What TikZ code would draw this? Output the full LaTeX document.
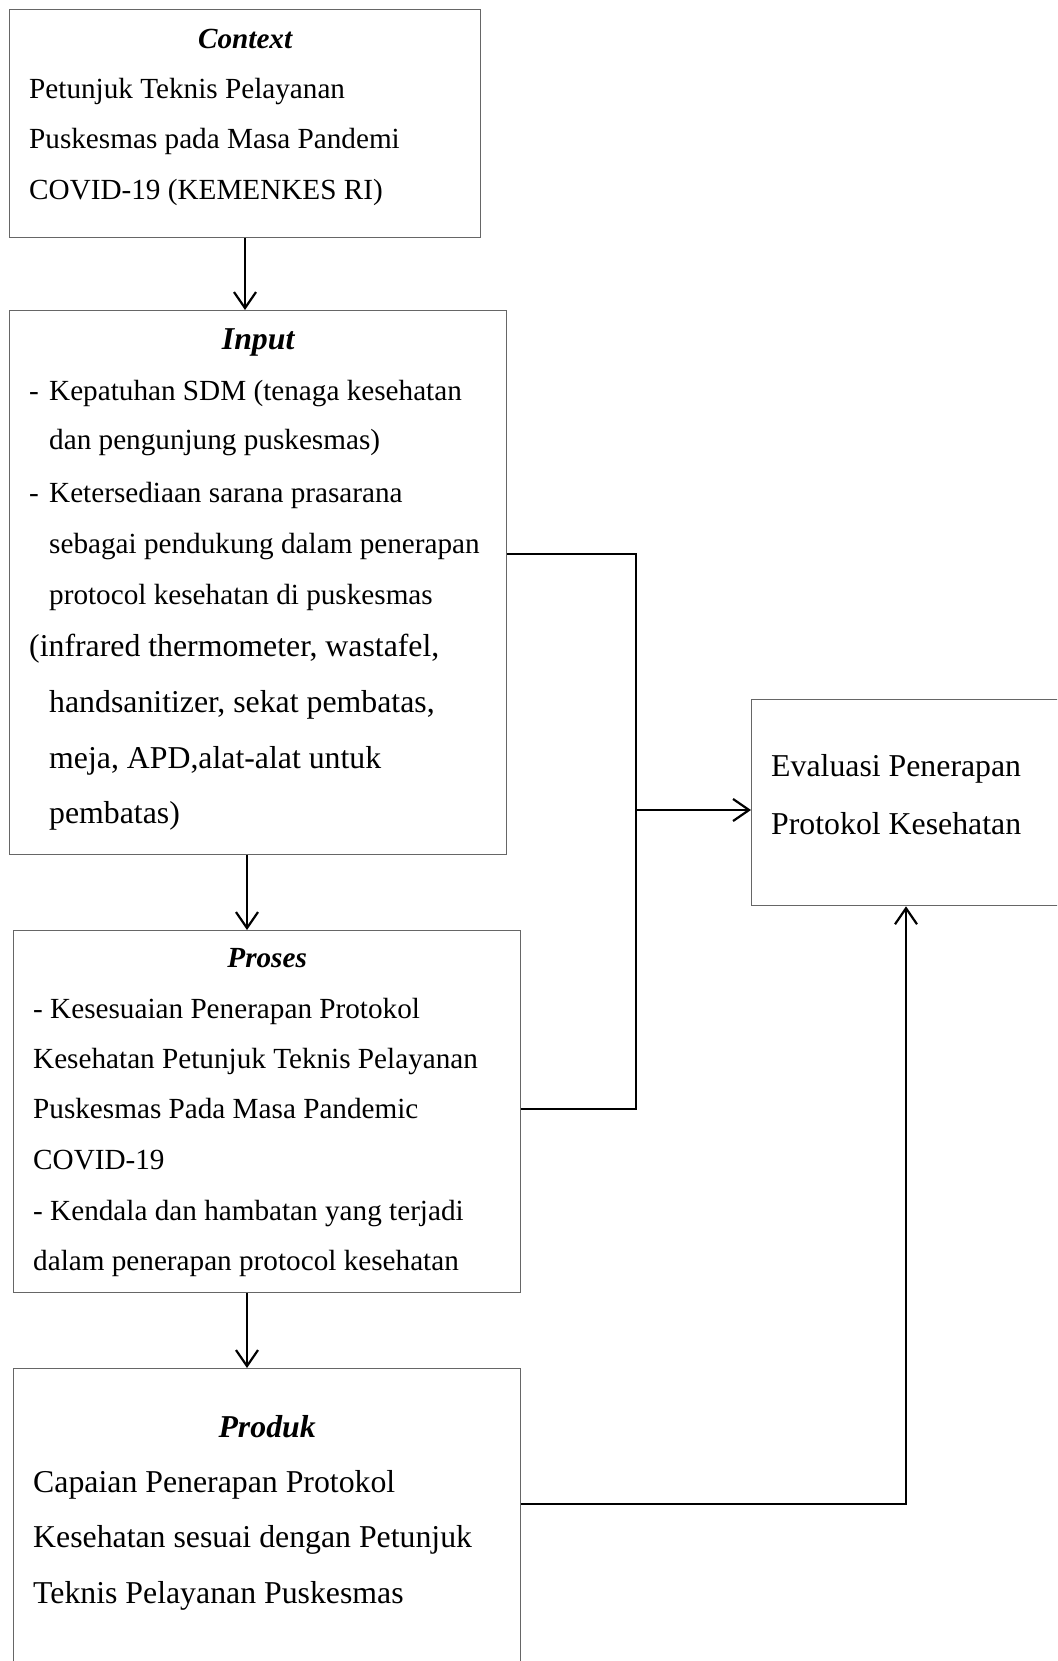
\documentclass[tikz,border=0pt]{standalone}
\usepackage{fontspec}
\setmainfont{Liberation Serif}
\usetikzlibrary{arrows.meta,positioning}

\newcommand{\kecil}{\fontsize{29.2}{35}\selectfont}
\newcommand{\besar}{\fontsize{31.8}{38}\selectfont}

\tikzset{
  kotak/.style={draw=black!60,line width=1.3pt,inner sep=0pt,anchor=north west},
  judulK/.style={font=\kecil\bfseries\itshape,anchor=base,inner sep=0pt},
  judulB/.style={font=\besar\bfseries\itshape,anchor=base,inner sep=0pt},
  baris/.style={font=\kecil,anchor=base west,inner sep=0pt},
  barisB/.style={font=\besar,anchor=base west,inner sep=0pt},
  garis/.style={line width=2.2pt,black},
  panah/.style={garis,-{Straight Barb[length=16pt,width=22pt]}}
}

\begin{document}
\begin{tikzpicture}[x=1pt,y=-1pt]
  \useasboundingbox (0,0) rectangle (1057,1661);
  \clip (0,0) rectangle (1057,1661);

  % kotak-kotak
  \node[kotak,minimum width=471,minimum height=228] (ctx) at (9,9) {};
  \node[kotak,minimum width=497,minimum height=544] (inp) at (9,310) {};
  \node[kotak,minimum width=507,minimum height=362] (pro) at (13,930) {};
  \node[kotak,minimum width=507,minimum height=340] (prd) at (13,1368) {};
  \node[kotak,minimum width=360,minimum height=206] (eva) at (751,699) {};

  % Context
  \node[judulK] (ctxJ) at (ctx.north |- 0,49) {Context};
  \foreach \y/\t [count=\i] in {99/Petunjuk Teknis Pelayanan,
      149/Puskesmas pada Masa Pandemi,
      200/{COVID-19 (KEMENKES RI)}}
    \node[baris] (ctx\i) at (29,\y) {\t};

  % Input
  \node[judulB] (inpJ) at (inp.north |- 0,349) {Input};
  \node[baris] (inp1) at (29,400) {\makebox[20pt][l]{-}Kepatuhan SDM (tenaga kesehatan};
  \node[baris] (inp2) at (49,449) {dan pengunjung puskesmas)};
  \node[baris] (inp3) at (29,502) {\makebox[20pt][l]{-}Ketersediaan sarana prasarana};
  \node[baris] (inp4) at (49,553) {sebagai pendukung dalam penerapan};
  \node[baris] (inp5) at (49,604) {protocol kesehatan di puskesmas};
  \node[barisB] (inp6) at (29,656) {(infrared thermometer, wastafel,};
  \node[barisB] (inp7) at (49,712) {handsanitizer, sekat pembatas,};
  \node[barisB] (inp8) at (49,768) {meja, APD,alat-alat untuk};
  \node[barisB] (inp9) at (49,823) {pembatas)};

  % Proses
  \node[judulK] (proJ) at (pro.north |- 0,967) {Proses};
  \foreach \y/\t [count=\i] in {1018/- Kesesuaian Penerapan Protokol,
      1068/Kesehatan Petunjuk Teknis Pelayanan,
      1118/Puskesmas Pada Masa Pandemic,
      1169/COVID-19,
      1220/- Kendala dan hambatan yang terjadi,
      1270/dalam penerapan protocol kesehatan}
    \node[baris] (pro\i) at (33,\y) {\t};

  % Produk
  \node[judulB] (prdJ) at (prd.north |- 0,1437) {Produk};
  \foreach \y/\t [count=\i] in {1492/Capaian Penerapan Protokol,
      1547/Kesehatan sesuai dengan Petunjuk,
      1603/Teknis Pelayanan Puskesmas}
    \node[barisB] (prd\i) at (33,\y) {\t};

  % Evaluasi
  \node[barisB] (eva1) at (771,776) {Evaluasi Penerapan};
  \node[barisB] (eva2) at (771,834) {Protokol Kesehatan};

  % panah antar kotak
  \draw[panah] (ctx.south -| 245,0) -- (inp.north -| 245,0);
  \draw[panah] (inp.south -| 247,0) -- (pro.north -| 247,0);
  \draw[panah] (pro.south -| 247,0) -- (prd.north -| 247,0);

  % sambungan ke evaluasi
  \coordinate (j1) at (636,554);
  \coordinate (j2) at (636,1109);
  \coordinate (j3) at (636,810);
  \coordinate (j4) at (906,1504);
  \draw[garis] (inp.east |- j1) -- (j1) -- (j2) -- (pro.east |- j2);
  \draw[panah] (j3) -- (eva.west |- j3);
  \draw[panah] (prd.east |- j4) -- (j4) -- (j4 |- eva.south);
\end{tikzpicture}
\end{document}
